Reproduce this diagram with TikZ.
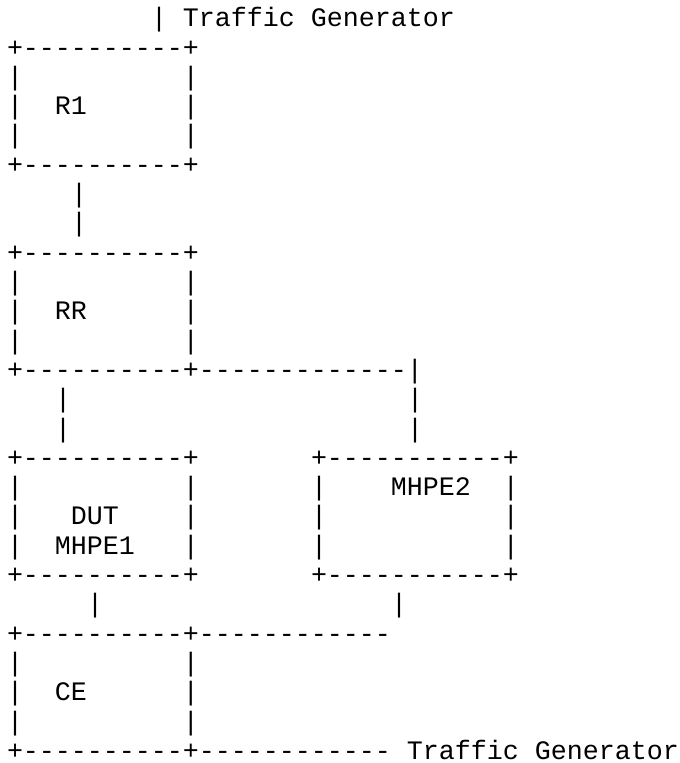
\documentclass[tikz,border=0pt]{standalone}
\usepackage{fontspec}
\setmonofont{Liberation Mono}

\begin{document}
\begin{tikzpicture}[
    x=16pt,
    y=-29.31pt,
    ascii/.style={
        anchor=base west, inner sep=0pt, outer sep=0pt,
        font=\ttfamily\fontsize{26.66pt}{29.31pt}\selectfont
    },
]

% Page
\path[fill=white, use as bounding box] (-7pt,-2.61pt) rectangle (673pt,-765.61pt);

% Traffic generator on top
\node[ascii] (tgtop) at (9,1) {| Traffic Generator};

% R1
\node[ascii] (r1top) at (0,2) {+----------+};
\node[ascii] (r1a)   at (0,3) {|~~~~~~~~~~|};
\node[ascii] (r1lbl) at (0,4) {|~~R1~~~~~~|};
\node[ascii] (r1b)   at (0,5) {|~~~~~~~~~~|};
\node[ascii] (r1bot) at (0,6) {+----------+};

% R1 - RR
\node[ascii] (r1rra) at (4,7) {|};
\node[ascii] (r1rrb) at (4,8) {|};

% RR
\node[ascii] (rrtop) at (0,9)  {+----------+};
\node[ascii] (rra)   at (0,10) {|~~~~~~~~~~|};
\node[ascii] (rrlbl) at (0,11) {|~~RR~~~~~~|};
\node[ascii] (rrb)   at (0,12) {|~~~~~~~~~~|};
\node[ascii] (rrbot) at (0,13) {+----------+-------------|};

% RR - MHPE1 and RR - MHPE2
\node[ascii] (rrduta)  at (3,14)  {|};
\node[ascii] (rrduttb) at (3,15)  {|};
\node[ascii] (rrpe2a)  at (25,14) {|};
\node[ascii] (rrpe2b)  at (25,15) {|};

% DUT / MHPE1
\node[ascii] (duttop) at (0,16) {+----------+};
\node[ascii] (duta)   at (0,17) {|~~~~~~~~~~|};
\node[ascii] (dutlbl) at (0,18) {|~~~DUT~~~~|};
\node[ascii] (pe1lbl) at (0,19) {|~~MHPE1~~~|};
\node[ascii] (dutbot) at (0,20) {+----------+};

% MHPE2
\node[ascii] (pe2top) at (19,16) {+-----------+};
\node[ascii] (pe2lbl) at (19,17) {|~~~~MHPE2~~|};
\node[ascii] (pe2a)   at (19,18) {|~~~~~~~~~~~|};
\node[ascii] (pe2b)   at (19,19) {|~~~~~~~~~~~|};
\node[ascii] (pe2bot) at (19,20) {+-----------+};

% MHPE1 - CE and MHPE2 - CE
\node[ascii] (dutce) at (5,21)  {|};
\node[ascii] (pe2ce) at (24,21) {|};

% CE
\node[ascii] (cetop) at (0,22) {+----------+------------};
\node[ascii] (cea)   at (0,23) {|~~~~~~~~~~|};
\node[ascii] (celbl) at (0,24) {|~~CE~~~~~~|};
\node[ascii] (ceb)   at (0,25) {|~~~~~~~~~~|};
\node[ascii] (cebot) at (0,26) {+----------+------------~Traffic Generator};

\end{tikzpicture}
\end{document}
